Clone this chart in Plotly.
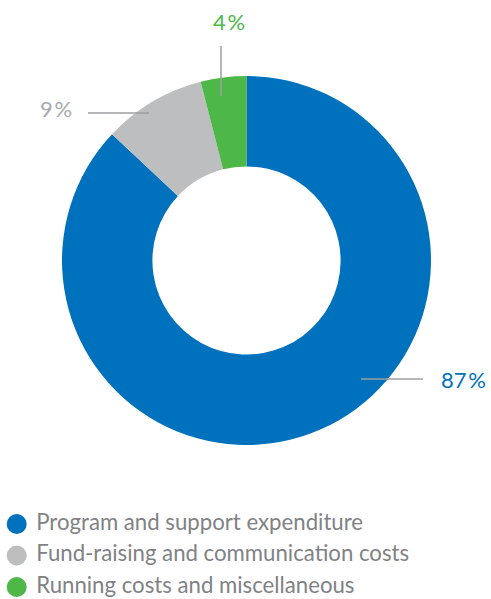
import plotly.graph_objects as go

categories = ["Program and support expenditure",
              "Fund-raising and communication costs",
              "Running costs and miscellaneous"]
values = [87, 9, 4]
colors = ["#0071BC", "#BCBEC0", "#4DB848"]
label_colors = ["#0071BC", "#A7A9AC", "#4DB848"]

W, H = 491, 599

fig = go.Figure()
fig.add_trace(go.Pie(
    values=values, labels=categories, sort=False, direction="clockwise",
    rotation=0, hole=0.51, textinfo="none", hoverinfo="label+percent",
    marker=dict(colors=colors, line=dict(width=0)),
    domain=dict(x=[62 / W, 431 / W], y=[1 - 445 / H, 1 - 76 / H]),
    showlegend=False,
))

# Legend drawn as a key on a hidden axis: one row per category index
idx = list(range(len(categories)))
fig.add_trace(go.Scatter(
    x=[0] * len(idx), y=idx, mode="markers",
    marker=dict(symbol="circle", size=20, color=colors, line=dict(width=0)),
    hoverinfo="skip", showlegend=False, cliponaxis=False,
))
fig.add_trace(go.Scatter(
    x=[19.5] * len(idx), y=idx, mode="text", text=categories,
    textposition="middle right",
    textfont=dict(family="Lato", size=22.2, color="#808285"),
    hoverinfo="skip", showlegend=False, cliponaxis=False,
))

row0, row_gap, key_x = 524, 31.5, 16.7
fig.update_xaxes(visible=False, range=[-key_x, W - key_x], domain=[0, 1], fixedrange=True)
fig.update_yaxes(visible=False,
                 range=[(H - row0) / row_gap, -row0 / row_gap], domain=[0, 1], fixedrange=True)

# label placements (px): text center, leader line
label_pos = [
    dict(tx=463, ty=379, line=(361, 379, 423, 379)),
    dict(tx=56, ty=109, line=(88, 113, 149, 113)),
    dict(tx=229, ty=22, line=(221, 46, 221, 96)),
]
shapes = []
annotations = []
for v, col, p in zip(values, label_colors, label_pos):
    x0, y0, x1, y1 = p["line"]
    shapes.append(dict(type="line", xref="paper", yref="paper",
                       x0=x0 / W, y0=1 - y0 / H, x1=x1 / W, y1=1 - y1 / H,
                       line=dict(color="#9D9FA2", width=1.5), layer="above"))
    annotations.append(dict(text=f"{v}<span style='font-size:7px'> </span>%",
                            xref="paper", yref="paper",
                            x=p["tx"] / W, y=1 - p["ty"] / H,
                            xanchor="center", yanchor="middle", showarrow=False,
                            font=dict(family="Lato", size=22, color=col)))

fig.update_layout(
    width=W, height=H,
    margin=dict(l=0, r=0, t=0, b=0),
    paper_bgcolor="white", plot_bgcolor="rgba(0,0,0,0)",
    shapes=shapes, annotations=annotations,
    showlegend=False,
)

fig.write_html("out.html", config={"displayModeBar": False},
               post_script="document.body.style.margin='0';document.body.style.overflow='hidden';")
